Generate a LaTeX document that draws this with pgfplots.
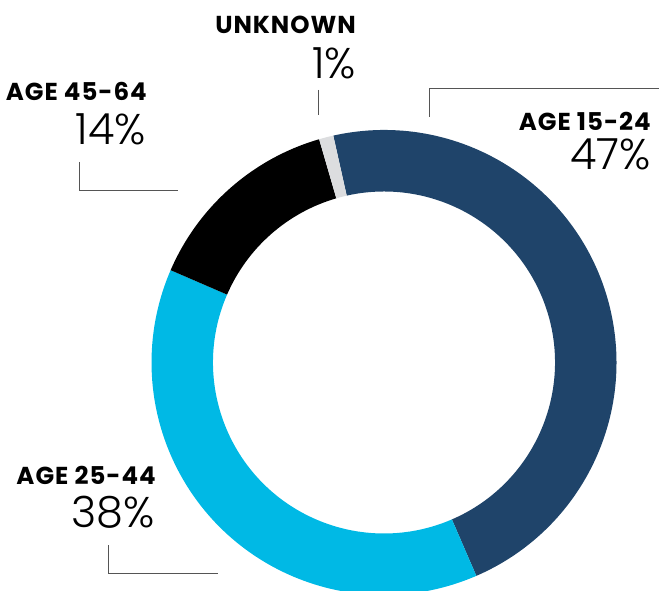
\documentclass[border=0pt]{standalone}
\usepackage{pgfplots}
\pgfplotsset{compat=1.18}
\usepackage{pgfplotstable}
\usetikzlibrary{calc}
\usepackage{fontspec}
\setmainfont{Poppins}
\newfontfamily\lblfont{Poppins Bold}[LetterSpace=4]
\newfontfamily\pctfont{Poppins Light}
\definecolor{dblue}{HTML}{1F446A}
\definecolor{lblue}{HTML}{00B9E5}
\definecolor{ugrey}{HTML}{DCDDDF}
\definecolor{lgrey}{HTML}{555555}

\pgfplotstableread{
label value
15-24 47
25-44 38
45-64 14
unknown 1
}\donut

\begin{document}
\begin{tikzpicture}
\pgfplotstablegetelem{0}{value}\of\donut \let\vA\pgfplotsretval
\pgfplotstablegetelem{1}{value}\of\donut \let\vB\pgfplotsretval
\pgfplotstablegetelem{2}{value}\of\donut \let\vC\pgfplotsretval
\pgfplotstablegetelem{3}{value}\of\donut \let\vD\pgfplotsretval
\pgfmathsetmacro\aA{102.6}
\pgfmathsetmacro\aB{\aA-3.6*\vA}
\pgfmathsetmacro\aC{\aB-3.6*\vB}
\pgfmathsetmacro\aD{\aC-3.6*\vC}
\pgfmathsetmacro\aE{\aD-3.6*\vD}
\def\Ro{232.5pt}
\def\Ri{171pt}
\begin{axis}[
  x=1pt, y=1pt,
  xmin=0, xmax=659, ymin=0, ymax=590,
  hide axis, clip=false,
  scale only axis,
]
\coordinate (ll) at (axis cs:0,0);
\coordinate (ur) at (axis cs:659,590);
\coordinate (cc) at (axis cs:384,227.5);
\fill[dblue] ($(cc)+(\aA:\Ro)$) arc[start angle=\aA,end angle=\aB,radius=\Ro] -- ($(cc)+(\aB:\Ri)$) arc[start angle=\aB,end angle=\aA,radius=\Ri] -- cycle;
\fill[lblue] ($(cc)+(\aB:\Ro)$) arc[start angle=\aB,end angle=\aC,radius=\Ro] -- ($(cc)+(\aC:\Ri)$) arc[start angle=\aC,end angle=\aB,radius=\Ri] -- cycle;
\fill[black] ($(cc)+(\aC:\Ro)$) arc[start angle=\aC,end angle=\aD,radius=\Ro] -- ($(cc)+(\aD:\Ri)$) arc[start angle=\aD,end angle=\aC,radius=\Ri] -- cycle;
\fill[ugrey] ($(cc)+(\aD:\Ro)$) arc[start angle=\aD,end angle=\aE,radius=\Ro] -- ($(cc)+(\aE:\Ri)$) arc[start angle=\aE,end angle=\aD,radius=\Ri] -- cycle;

\tikzset{lbl/.style={anchor=base east, inner sep=0pt, font=\lblfont\fontsize{24.5}{24.5}\selectfont},
         pct/.style={anchor=base east, inner sep=0pt, font=\pctfont\fontsize{43}{43}\selectfont},
         ln/.style={draw=lgrey, line width=1pt}}
\node[lbl] at (axis cs:356,556) {UNKNOWN};
\node[pct] at (axis cs:356,511) {1\%};
\draw[ln] (axis cs:318,500) -- (axis cs:318,475);

\node[lbl] at (axis cs:147,489) {AGE 45-64};
\node[pct] at (axis cs:146,445) {14\%};
\draw[ln] (axis cs:79,428) -- (axis cs:79,399) -- (axis cs:178,399);

\node[lbl] at (axis cs:651,459) {AGE 15-24};
\node[pct] at (axis cs:651,420) {47\%};
\draw[ln] (axis cs:429,473) -- (axis cs:429,501) -- (axis cs:659,501);

\node[lbl] at (axis cs:156,106) {AGE 25-44};
\node[pct] at (axis cs:155,63) {38\%};
\draw[ln] (axis cs:108,45) -- (axis cs:108,17) -- (axis cs:218,17);
\end{axis}
\pgfresetboundingbox
\useasboundingbox (ll) rectangle (ur);
\end{tikzpicture}
\end{document}
